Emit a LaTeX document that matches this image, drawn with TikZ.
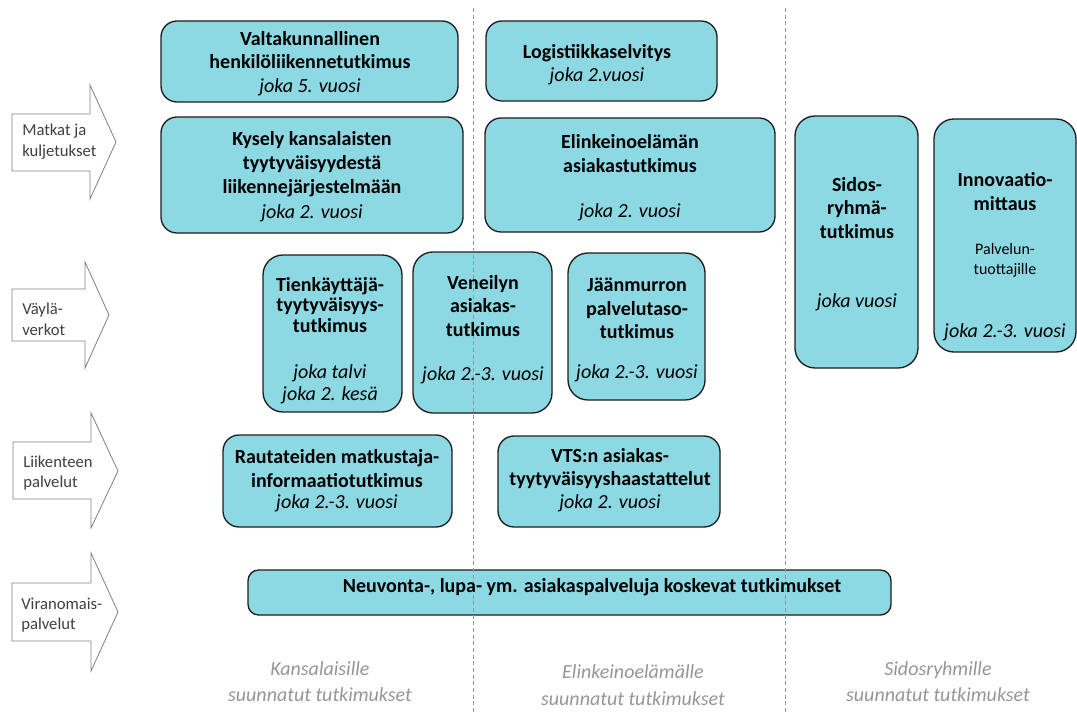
\documentclass[tikz,border=0pt]{standalone}
\usepackage{fontspec}
\setmainfont{Carlito}
\usetikzlibrary{fit}
\definecolor{boxfill}{RGB}{140,216,227}
\definecolor{boxline}{RGB}{30,30,30}
\definecolor{arrline}{RGB}{128,128,128}
\definecolor{arrtext}{RGB}{64,64,64}
\definecolor{coltext}{RGB}{150,150,150}
\definecolor{divline}{RGB}{150,150,150}
\begin{document}
\begin{tikzpicture}[x=0.75pt,y=-0.75pt,
  box/.style={draw=boxline, line width=1pt, fill=boxfill, rounded corners=#1, inner sep=0pt},
  box/.default=12pt,
  ttl/.style={font=\fontsize{15}{17.5}\selectfont\bfseries, align=center, inner sep=0pt},
  freq/.style={font=\fontsize{15}{17.5}\selectfont\itshape, align=center, inner sep=0pt},
  subt/.style={font=\fontsize{12}{15}\selectfont, align=center, inner sep=0pt},
  arr/.style={draw=arrline, line width=0.6pt, fill=white},
  arrtxt/.style={font=\fontsize{12.5}{15.5}\selectfont, text=arrtext, align=left, anchor=west, inner sep=0pt},
  coltxt/.style={font=\fontsize{15}{20}\selectfont\itshape, text=coltext, align=center, inner sep=0pt},
  divider/.style={draw=divline, line width=0.6pt, dash pattern=on 3pt off 2pt}
]
\useasboundingbox (0,0) rectangle (1077,713);

% left arrows
\draw[arr] (12,114) -- (90,114) -- (90,85) -- (116,142) -- (90,199) -- (90,171) -- (12,171) -- cycle;
\draw[arr] (12,289) -- (85,289) -- (85,262) -- (109,315) -- (85,368) -- (85,341) -- (12,341) -- cycle;
\draw[arr] (13,442) -- (91,442) -- (91,413) -- (118,471) -- (91,528) -- (91,499) -- (13,499) -- cycle;
\draw[arr] (12,583) -- (91,583) -- (91,553) -- (118,612) -- (91,671) -- (91,641) -- (12,641) -- cycle;
\node[arrtxt] (a1) at (22,141.5) {Matkat ja\\kuljetukset};
\node[arrtxt] (a2) at (22,319) {Väylä-\\verkot};
\node[arrtxt] (a3) at (23,473) {Liikenteen\\palvelut};
\node[arrtxt] (a4) at (21,615) {Viranomais-\\palvelut};

% boxes
\node[box, fit={(161,21) (458,102)}] (b1) {};
\node[box, fit={(486,21) (717,101)}] (b2) {};
\node[box, fit={(161,117) (463,233)}] (b3) {};
\node[box, fit={(485,118) (775,232)}] (b4) {};
\node[box=15pt, fit={(795,116) (918,368)}] (b5) {};
\node[box=15pt, fit={(934,119) (1076,352)}] (b6) {};
\node[box=15pt, fit={(263,255) (402,412)}] (b7) {};
\node[box=15pt, fit={(413,252) (552,413)}] (b8) {};
\node[box=15pt, fit={(568,253) (705,400)}] (b9) {};
\node[box, fit={(223,435) (452,527)}] (b10) {};
\node[box, fit={(498,436) (720,527)}] (b11) {};
\node[box=8pt, fit={(248,570) (891,615)}] (b12) {};

% dividers
\coordinate (d1t) at (473,8);
\coordinate (d1b) at (473,713);
\coordinate (d2t) at (785,8);
\coordinate (d2b) at (785,713);
\draw[divider] (d1t) -- (d1b);
\draw[divider] (d2t) -- (d2b);

% texts
\node[ttl] (t1) at (310,50) {Valtakunnallinen\\henkilöliikennetutkimus};
\node[freq] (f1) at (310,87) {joka 5. vuosi};
\node[ttl] (t2) at (597,53) {Logistiikkaselvitys};
\node[freq] (f2) at (597,76) {joka 2.vuosi};
\node[ttl, font=\fontsize{15}{18}\selectfont\bfseries] (t3) at (312,164) {Kysely kansalaisten\\tyytyväisyydestä\\liikennejärjestelmään};
\node[freq] (f3) at (312,213) {joka 2. vuosi};
\node[ttl] (t4) at (630,153.5) {Elinkeinoelämän\\asiakastutkimus};
\node[freq] (f4) at (630,212) {joka 2. vuosi};
\node[ttl] (t5) at (857,208) {Sidos-\\ryhmä-\\tutkimus};
\node[freq] (f5) at (857,302) {joka vuosi};
\node[ttl] (t6) at (1005,191.5) {Innovaatio-\\mittaus};
\node[subt] (s6) at (1005,260) {Palvelun-\\tuottajille};
\node[freq] (f6) at (1005,332) {joka 2.-3. vuosi};
\node[ttl, font=\fontsize{15}{15.5}\selectfont\bfseries] (t7) at (330,305) {Tienkäyttäjä-\\tyytyväisyys-\\tutkimus};
\node[freq, font=\fontsize{15}{16.5}\selectfont\itshape] (f7) at (330,384) {joka talvi\\joka 2. kesä};
\node[ttl] (t8) at (483,306) {Veneilyn\\asiakas-\\tutkimus};
\node[freq] (f8) at (483,375) {joka 2.-3. vuosi};
\node[ttl] (t9) at (637,308.5) {Jäänmurron\\palvelutaso-\\tutkimus};
\node[freq] (f9) at (637,373) {joka 2.-3. vuosi};
\node[ttl] (t10) at (337,468.5) {Rautateiden matkustaja-\\informaatiotutkimus};
\node[freq] (f10) at (337,503) {joka 2.-3. vuosi};
\node[ttl] (t11) at (610,468.5) {VTS:n asiakas-\\tyytyväisyyshaastattelut};
\node[freq] (f11) at (610,503) {joka 2. vuosi};
\node[ttl] (t12) at (592,587) {Neuvonta-, lupa- ym. asiakaspalveluja koskevat tutkimukset};

% column labels
\node[coltxt] (c1) at (320,681.5) {Kansalaisille\\suunnatut tutkimukset};
\node[coltxt] (c2) at (633,685) {Elinkeinoelämälle\\suunnatut tutkimukset};
\node[coltxt] (c3) at (938,681.5) {Sidosryhmille\\suunnatut tutkimukset};
\end{tikzpicture}
\end{document}
